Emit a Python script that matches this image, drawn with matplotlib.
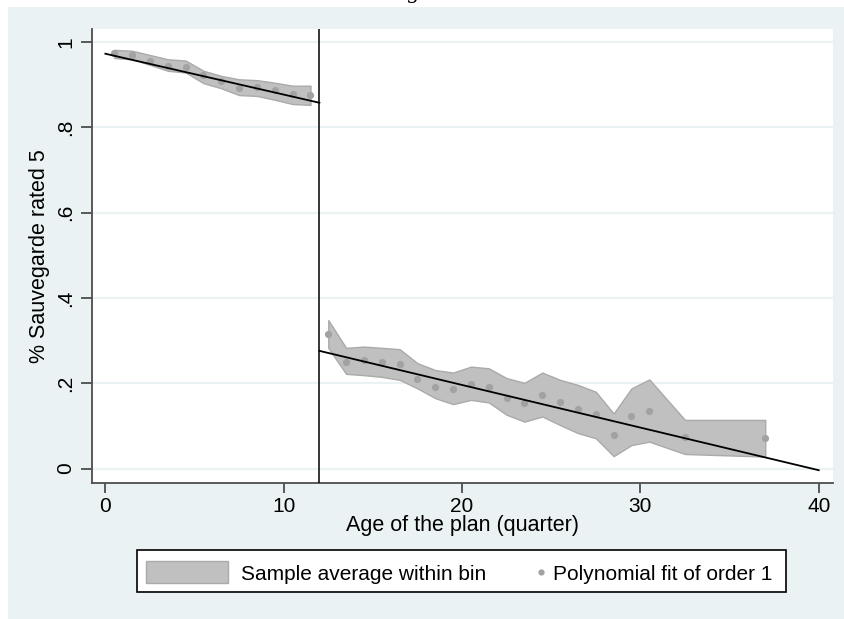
import matplotlib
matplotlib.use("Agg")
import matplotlib.pyplot as plt
from matplotlib.patches import Rectangle
from matplotlib.lines import Line2D
import numpy as np

plt.rcParams['font.family'] = ['Liberation Sans', 'DejaVu Sans']

# ---- data ----
left_x = [0.5, 1.5, 2.5, 3.5, 4.5, 5.5, 6.5, 7.5, 8.5, 9.5, 10.5, 11.5]
left_y = [0.974, 0.969, 0.957, 0.945, 0.943, 0.923, 0.908, 0.892, 0.894, 0.888, 0.878, 0.876]
left_hi = [0.982, 0.980, 0.970, 0.960, 0.957, 0.933, 0.921, 0.913, 0.911, 0.905, 0.898, 0.898]
left_lo = [0.963, 0.960, 0.947, 0.933, 0.929, 0.904, 0.892, 0.876, 0.874, 0.865, 0.855, 0.853]

right_x = [12.5, 13.5, 14.5, 15.5, 16.5, 17.5, 18.5, 19.5, 20.5, 21.5, 22.5, 23.5,
           24.5, 25.5, 26.5, 27.5, 28.5, 29.5, 30.5, 32.5, 37.0]
right_y = [0.315, 0.251, 0.255, 0.249, 0.245, 0.210, 0.192, 0.186, 0.198, 0.192, 0.165, 0.153,
           0.172, 0.155, 0.139, 0.127, 0.079, 0.122, 0.136, 0.075, 0.071]
right_hi = [0.348, 0.283, 0.286, 0.283, 0.280, 0.247, 0.231, 0.225, 0.239, 0.235, 0.212, 0.201,
            0.225, 0.208, 0.196, 0.180, 0.129, 0.188, 0.209, 0.114, 0.114]
right_lo = [0.283, 0.222, 0.219, 0.215, 0.208, 0.188, 0.165, 0.151, 0.161, 0.155, 0.126, 0.110,
            0.122, 0.102, 0.083, 0.071, 0.029, 0.055, 0.063, 0.034, 0.028]

fit_left_x = [0, 12]
fit_left_y = [0.973, 0.858]
fit_right_x = [12, 40]
fit_right_y = [0.276, -0.004]

cutoff = 12
xticks = [0, 10, 20, 30, 40]
yticks = [0, 0.2, 0.4, 0.6, 0.8, 1.0]
ytick_labels = ["0", ".2", ".4", ".6", ".8", "1"]
legend_labels = ['Sample average within bin', 'Polynomial fit of order 1']

BG = '#eaf2f3'
BAND = '#c0c0c0'
BAND_EDGE = '#aaaaaa'
DOT = '#a2a2a2'
W, H = 844, 619

def fx(px):
    return px / W

def fy(py):
    return 1 - py / H

fig = plt.figure(figsize=(W / 100, H / 100), dpi=100)
fig.patch.set_facecolor('white')
fig.add_artist(Rectangle((fx(8), 0), 1 - fx(8), fy(7), transform=fig.transFigure,
                         facecolor=BG, edgecolor='none', zorder=0))
fig.text(fx(413), 1 + 1 / H, 'g', family='DejaVu Serif', fontsize=15,
         ha='center', va='baseline')

ax = fig.add_axes([fx(92), fy(483), (833 - 92) / W, (483 - 29) / H])
ax.set_facecolor('white')
ax.set_zorder(1)

for yt in yticks:
    ax.axhline(yt, color=BG, lw=1.6, zorder=0.5)

ax.fill_between(left_x, left_lo, left_hi, facecolor=BAND, edgecolor=BAND_EDGE, lw=1.0, zorder=2)
ax.fill_between(right_x, right_lo, right_hi, facecolor=BAND, edgecolor=BAND_EDGE, lw=1.0, zorder=2)
ax.plot(left_x, left_y, 'o', color=DOT, ms=5.2, mec='none', zorder=3)
ax.plot(right_x, right_y, 'o', color=DOT, ms=5.2, mec='none', zorder=3)
ax.plot(fit_left_x, fit_left_y, color='black', lw=1.3, zorder=4)
ax.plot(fit_right_x, fit_right_y, color='black', lw=1.3, zorder=4)
ax.axvline(cutoff, color='black', lw=1.1, zorder=4)

ax.set_xlim(-0.75, 40.8)
ax.set_ylim(-0.034, 1.031)
ax.set_xticks(xticks)
ax.set_yticks(yticks)
ax.set_yticklabels(ytick_labels, rotation=90, va='center')

for s in ['top', 'right']:
    ax.spines[s].set_visible(False)
for s in ['left', 'bottom']:
    ax.spines[s].set_color('#4d4d4d')
    ax.spines[s].set_linewidth(1.3)
ax.tick_params(axis='y', length=8, width=1.3, color='#4d4d4d', labelsize=15, pad=4)
ax.tick_params(axis='x', length=7, width=1.3, color='#4d4d4d', labelsize=15, pad=3)

ax.set_xlabel('Age of the plan (quarter)', fontsize=15.5)
ax.set_ylabel('% Sauvegarde rated 5', fontsize=15.5)
ax.xaxis.label.set_va('center')
ax.yaxis.label.set_va('center')
ax.xaxis.set_label_coords((463 - 92) / 741, (483 - 526) / 454)
ax.yaxis.set_label_coords((40 - 92) / 741, 0.5)

# ---- legend (drawn as a box in figure pixels) ----
fig.add_artist(Rectangle((fx(137), fy(592)), fx(786) - fx(137), fy(550) - fy(592),
                         transform=fig.transFigure, facecolor='white',
                         edgecolor='black', lw=1.2, zorder=5))
fig.add_artist(Rectangle((fx(146), fy(583)), fx(228) - fx(146), fy(561) - fy(583),
                         transform=fig.transFigure, facecolor=BAND,
                         edgecolor=BAND_EDGE, lw=1.0, zorder=6))
fig.text(fx(241), fy(572), legend_labels[0], fontsize=15, ha='left', va='center_baseline',
         zorder=6)
fig.add_artist(Line2D([fx(541)], [fy(572)], marker='o', color=DOT, ms=4.5, mec='none',
                      transform=fig.transFigure, zorder=6))
fig.text(fx(553), fy(572), legend_labels[1], fontsize=15, ha='left', va='center_baseline',
         zorder=6)

fig.savefig('out.png', dpi=100, facecolor='white')
